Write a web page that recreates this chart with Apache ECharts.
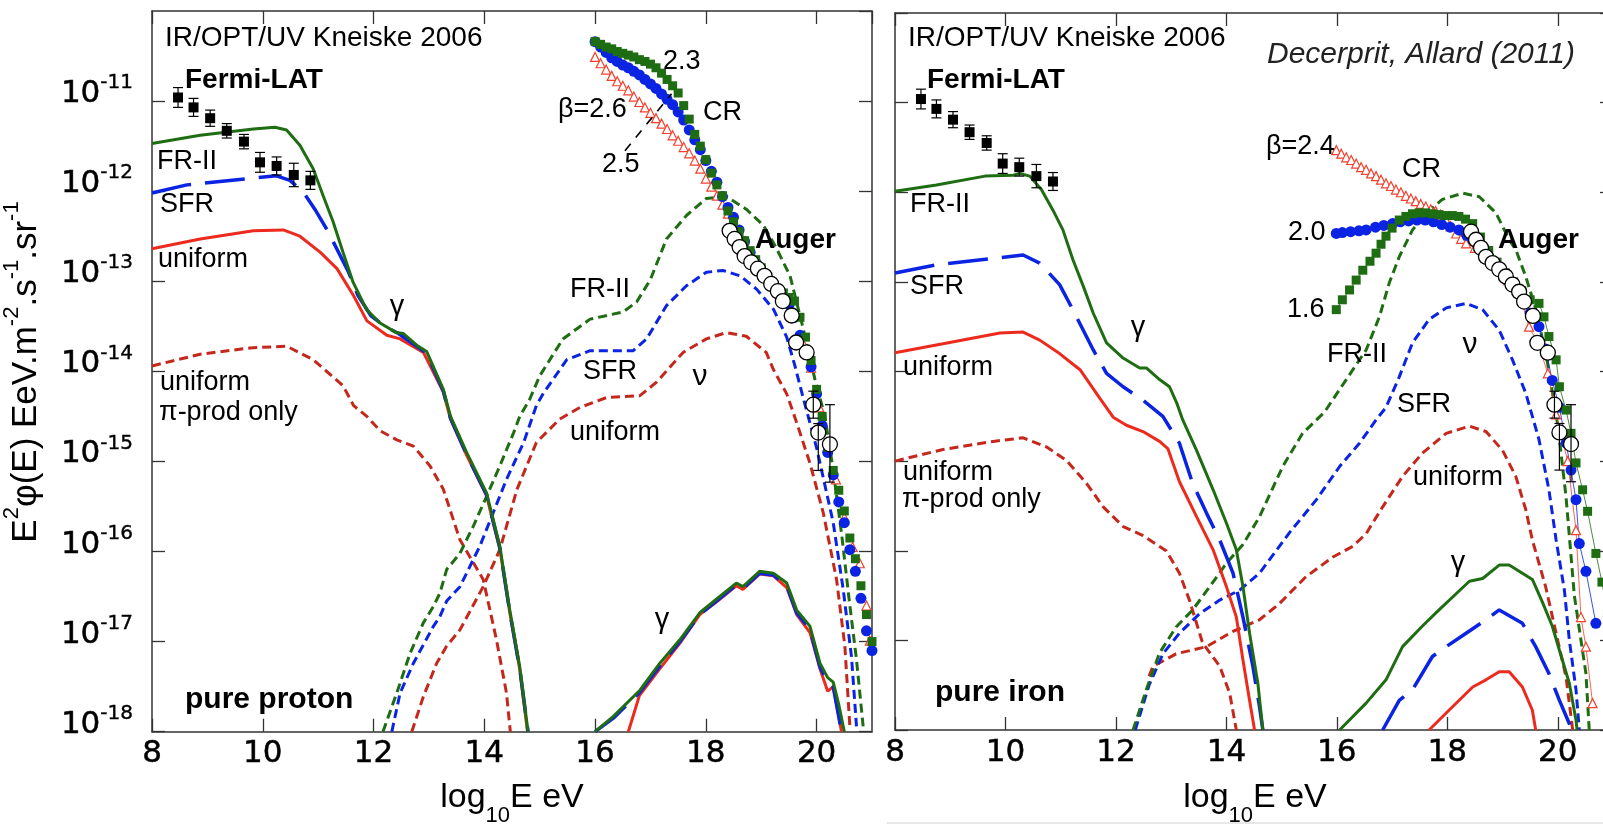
<!DOCTYPE html>
<html><head><meta charset="utf-8">
<script src="https://cdn.jsdelivr.net/npm/echarts@6/dist/echarts.min.js"></script>
<style>html,body{margin:0;padding:0;background:#fff}#c{width:1603px;height:824px}</style>
</head><body><div id="c"></div>
<script>
// ---------- DATA (x = log10 E [eV], y = log10 E^2 phi) ----------
const xTicks = [8, 10, 12, 14, 16, 18, 20];
const yTicks = [-18, -17, -16, -15, -14, -13, -12, -11];

// Fermi-LAT
const fermiX = [8.47, 8.75, 9.05, 9.35, 9.66, 9.95, 10.25, 10.56, 10.86];
const fermiY = [-10.96, -11.07, -11.19, -11.33, -11.45, -11.68, -11.72, -11.82, -11.88];
const fermiErr = [0.11, 0.10, 0.09, 0.08, 0.08, 0.11, 0.10, 0.13, 0.10];

// Auger
const augerX = [18.43, 18.52, 18.61, 18.70, 18.82, 18.94, 19.06, 19.18, 19.30, 19.39, 19.55, 19.63, 19.82, 19.94, 20.03, 20.24];
const augerY = [-12.44, -12.53, -12.62, -12.72, -12.79, -12.86, -12.94, -13.03, -13.11, -13.22, -13.38, -13.68, -13.79, -14.37, -14.68, -14.81];
const augerErrLo = [0, 0, 0, 0, 0, 0, 0, 0, 0, 0, 0, 0, 0, 0.15, 0.42, 0.42];
const augerErrHi = [0, 0, 0, 0, 0, 0, 0, 0, 0, 0, 0, 0, 0, 0.15, 0.10, 0.44];

// ---- pure proton panel ----
const pGammaFRII = [[8.0,-11.47],[8.87,-11.38],[9.83,-11.31],[10.22,-11.29],[10.43,-11.32],[10.67,-11.49],[10.91,-11.75],[11.09,-12.05],[11.27,-12.34],[11.45,-12.68],[11.63,-13.01],[11.87,-13.31],[12.11,-13.46],[12.41,-13.57],[12.54,-13.58],[12.8,-13.72],[12.96,-13.78],[13.26,-14.2],[13.39,-14.5],[13.68,-14.9],[14.04,-15.35],[14.28,-15.94],[14.46,-16.65],[14.64,-17.28],[14.79,-18]];
const pGammaSFR = [[8.0,-12.02],[8.63,-11.93],[9.89,-11.85],[10.25,-11.83],[10.49,-11.88],[10.73,-12.01],[10.94,-12.2],[11.18,-12.45],[11.55,-12.9],[11.72,-13.16],[11.95,-13.38],[12.2,-13.5],[12.45,-13.58],[12.8,-13.73],[12.96,-13.8],[13.26,-14.22],[13.39,-14.52],[13.68,-14.92],[14.04,-15.37],[14.28,-15.96],[14.46,-16.67],[14.64,-17.3],[14.79,-18]];
const pGammaUniform = [[8.0,-12.64],[8.87,-12.53],[9.83,-12.44],[10.37,-12.43],[10.67,-12.5],[11.04,-12.68],[11.34,-12.86],[11.64,-13.16],[11.88,-13.44],[12.24,-13.6],[12.48,-13.64],[12.9,-13.79],[13.26,-14.23],[13.39,-14.53],[13.68,-14.93],[14.04,-15.38],[14.28,-15.97],[14.46,-16.68],[14.64,-17.31],[14.78,-18]];
const pNuPiProd = [[8.0,-13.94],[8.87,-13.81],[9.77,-13.74],[10.43,-13.72],[10.91,-13.87],[11.45,-14.16],[11.64,-14.38],[11.88,-14.5],[12.12,-14.66],[12.42,-14.76],[12.72,-14.83],[13.02,-15.05],[13.26,-15.31],[13.56,-15.87],[13.98,-16.31],[14.22,-16.98],[14.4,-17.57],[14.47,-18]];
const pNuFRII = [[12.17,-18],[12.42,-17.57],[12.66,-17.13],[12.9,-16.79],[13.08,-16.61],[13.2,-16.46],[13.32,-16.2],[13.56,-16.02],[13.8,-15.72],[14.04,-15.39],[14.28,-15.05],[14.53,-14.68],[14.64,-14.5],[14.82,-14.31],[15.0,-14.05],[15.42,-13.64],[15.91,-13.42],[16.51,-13.34],[16.75,-13.23],[17.0,-12.98],[17.29,-12.53],[17.65,-12.27],[18.01,-12.08],[18.37,-12.06],[18.73,-12.2],[19.04,-12.38],[19.28,-12.64],[19.52,-12.94],[19.76,-13.53],[19.97,-14.09],[20.15,-14.5],[20.3,-15.1],[20.45,-15.8],[20.6,-16.6],[20.72,-17.2],[20.84,-17.94]];
const pNuSFR = [[12.33,-18],[12.48,-17.57],[12.72,-17.24],[13.08,-16.83],[13.2,-16.72],[13.32,-16.55],[13.56,-16.39],[13.92,-15.94],[14.16,-15.57],[14.4,-15.2],[14.71,-14.79],[14.94,-14.38],[15.07,-14.24],[15.49,-13.87],[15.91,-13.77],[16.69,-13.77],[16.93,-13.64],[17.29,-13.27],[17.65,-13.05],[18.01,-12.9],[18.31,-12.88],[18.62,-12.94],[18.92,-13.09],[19.22,-13.31],[19.46,-13.62],[19.6,-13.92],[19.76,-14.3],[20.0,-14.85],[20.3,-15.68],[20.48,-16.42],[20.63,-17.17],[20.72,-17.94]];
const pNuUniform = [[12.69,-18],[12.9,-17.61],[13.14,-17.24],[13.32,-17.05],[13.56,-16.87],[13.98,-16.39],[14.28,-15.98],[14.59,-15.31],[14.94,-14.79],[15.36,-14.53],[15.73,-14.4],[16.21,-14.29],[16.81,-14.27],[17.11,-14.12],[17.59,-13.79],[18.01,-13.64],[18.37,-13.57],[18.73,-13.61],[19.09,-13.79],[19.22,-13.98],[19.46,-14.25],[19.64,-14.57],[19.88,-15.02],[20.12,-15.57],[20.36,-16.31],[20.51,-17.05],[20.6,-17.94]];
const pCascFRII = [[16.0,-18],[16.33,-17.83],[16.81,-17.54],[17.17,-17.24],[17.53,-16.98],[17.89,-16.68],[18.19,-16.53],[18.55,-16.35],[18.67,-16.39],[18.97,-16.22],[19.22,-16.24],[19.46,-16.35],[19.64,-16.65],[19.88,-16.83],[20.06,-17.24],[20.2,-17.4],[20.3,-17.45],[20.4,-17.7],[20.5,-18]];
const pCascSFR = [[16.0,-18],[16.33,-17.85],[16.81,-17.56],[17.17,-17.27],[17.53,-17.0],[17.89,-16.7],[18.19,-16.55],[18.55,-16.37],[18.67,-16.41],[18.97,-16.24],[19.22,-16.26],[19.46,-16.38],[19.64,-16.68],[19.88,-16.86],[20.06,-17.28],[20.2,-17.45],[20.3,-17.5],[20.45,-18]];
const pCascUniform = [[16.6,-18],[16.8,-17.6],[17.17,-17.3],[17.53,-17.02],[17.89,-16.7],[18.19,-16.56],[18.55,-16.38],[18.67,-16.42],[18.97,-16.25],[19.22,-16.27],[19.46,-16.4],[19.64,-16.7],[19.88,-16.9],[20.06,-17.3],[20.2,-17.55],[20.3,-17.5],[20.45,-18]];
const pCR23 = [[16.0,-10.34],[16.1,-10.37],[16.2,-10.4],[16.3,-10.42],[16.4,-10.45],[16.5,-10.47],[16.6,-10.49],[16.7,-10.51],[16.8,-10.54],[16.9,-10.56],[17.0,-10.59],[17.1,-10.63],[17.2,-10.69],[17.3,-10.76],[17.4,-10.83],[17.5,-10.91],[17.6,-11.05],[17.7,-11.2],[17.8,-11.37],[17.9,-11.5],[18.0,-11.65],[18.1,-11.8],[18.2,-11.93],[18.3,-12.05],[18.4,-12.22],[18.5,-12.34],[18.6,-12.45],[18.7,-12.55],[18.8,-12.66],[18.9,-12.76],[19.0,-12.85],[19.1,-12.94],[19.2,-13.01],[19.3,-13.08],[19.4,-13.13],[19.5,-13.18],[19.6,-13.22],[19.7,-13.4],[19.8,-13.62],[19.9,-13.88],[20.0,-14.2],[20.1,-14.5],[20.2,-14.84],[20.3,-15.1],[20.4,-15.32],[20.5,-15.55],[20.6,-15.85],[20.7,-16.08],[20.8,-16.38],[20.9,-16.7],[21.0,-17.0]];
const pCR25 = [[16.0,-10.34],[16.1,-10.4],[16.2,-10.46],[16.3,-10.52],[16.4,-10.56],[16.5,-10.6],[16.6,-10.63],[16.7,-10.67],[16.8,-10.71],[16.9,-10.76],[17.0,-10.81],[17.1,-10.86],[17.2,-10.92],[17.3,-10.98],[17.4,-11.04],[17.5,-11.12],[17.6,-11.21],[17.7,-11.32],[17.8,-11.43],[17.9,-11.54],[18.0,-11.66],[18.1,-11.78],[18.2,-11.9],[18.3,-12.06],[18.4,-12.18],[18.5,-12.29],[18.6,-12.43],[18.7,-12.56],[18.8,-12.68],[18.9,-12.79],[19.0,-12.89],[19.1,-12.97],[19.2,-13.05],[19.3,-13.12],[19.4,-13.18],[19.5,-13.26],[19.6,-13.4],[19.7,-13.6],[19.8,-13.78],[19.9,-13.95],[20.0,-14.25],[20.1,-14.6],[20.2,-14.9],[20.3,-15.15],[20.4,-15.45],[20.5,-15.68],[20.6,-15.98],[20.7,-16.22],[20.8,-16.52],[20.9,-16.88],[21.0,-17.1]];
const pCR26 = [[16.0,-10.51],[16.1,-10.58],[16.2,-10.65],[16.3,-10.72],[16.4,-10.78],[16.5,-10.83],[16.6,-10.88],[16.7,-10.95],[16.8,-11.01],[16.9,-11.07],[17.0,-11.13],[17.1,-11.19],[17.2,-11.25],[17.3,-11.31],[17.4,-11.38],[17.5,-11.44],[17.6,-11.51],[17.7,-11.58],[17.8,-11.66],[17.9,-11.75],[18.0,-11.86],[18.1,-11.95],[18.2,-12.05],[18.3,-12.15],[18.4,-12.25],[18.55,-12.4],[18.7,-12.58],[18.85,-12.74],[19.0,-12.88],[19.15,-12.99],[19.3,-13.1],[19.45,-13.2],[19.6,-13.38],[19.75,-13.68],[19.9,-13.96],[20.05,-14.4],[20.2,-14.85],[20.35,-15.2],[20.5,-15.62],[20.65,-15.95],[20.78,-16.13],[20.9,-16.6],[20.96,-16.99]];
const pPointer = [[16.54,-11.55],[17.38,-10.92]];

// ---- pure iron panel ----
const fGammaFRII = [[8.0,-11.99],[8.75,-11.92],[9.63,-11.82],[10.14,-11.81],[10.26,-11.79],[10.44,-11.82],[10.65,-11.97],[10.86,-12.2],[11.04,-12.42],[11.22,-12.75],[11.41,-13.05],[11.59,-13.35],[11.83,-13.68],[12.13,-13.85],[12.43,-13.96],[12.55,-13.96],[12.79,-14.09],[12.97,-14.17],[13.1,-14.35],[13.21,-14.54],[13.46,-14.88],[13.76,-15.32],[14.0,-15.69],[14.18,-15.99],[14.3,-16.4],[14.42,-16.92],[14.57,-17.48],[14.66,-18]];
const fGammaSFR = [[8.0,-12.9],[8.75,-12.81],[9.9,-12.73],[10.32,-12.7],[10.62,-12.79],[10.98,-13.03],[11.22,-13.31],[11.59,-13.76],[11.83,-14.02],[12.13,-14.17],[12.49,-14.32],[12.85,-14.5],[13.15,-14.8],[13.39,-15.25],[13.64,-15.58],[13.88,-15.88],[14.12,-16.25],[14.3,-16.74],[14.48,-17.29],[14.6,-17.74],[14.66,-18]];
const fGammaUniform = [[8.0,-13.79],[8.87,-13.69],[9.9,-13.57],[10.32,-13.56],[10.62,-13.65],[10.98,-13.8],[11.35,-13.98],[11.71,-14.3],[11.95,-14.51],[12.19,-14.6],[12.49,-14.67],[12.79,-14.78],[12.94,-14.86],[13.15,-15.23],[13.46,-15.62],[13.76,-15.99],[14.0,-16.4],[14.18,-16.74],[14.3,-17.22],[14.42,-17.67],[14.51,-18]];
const fNuPiProd = [[8.0,-15.0],[8.87,-14.87],[9.78,-14.78],[10.32,-14.74],[10.74,-14.84],[11.1,-14.99],[11.47,-15.25],[11.77,-15.51],[12.13,-15.73],[12.49,-15.83],[12.91,-16.0],[13.15,-16.25],[13.33,-16.55],[13.57,-17.03],[13.88,-17.29],[14.06,-17.59],[14.18,-18]];
const fNuFRII = [[12.31,-18],[12.55,-17.55],[12.79,-17.14],[13.09,-16.85],[13.39,-16.66],[13.7,-16.4],[14.0,-16.14],[14.3,-15.93],[14.6,-15.62],[15.02,-15.06],[15.38,-14.69],[15.78,-14.45],[16.17,-14.09],[16.53,-13.76],[16.77,-13.39],[16.95,-13.01],[17.13,-12.72],[17.37,-12.42],[17.62,-12.23],[17.91,-12.08],[18.28,-12.01],[18.58,-12.05],[18.88,-12.23],[19.12,-12.53],[19.24,-12.64],[19.42,-12.94],[19.6,-13.3],[19.8,-13.85],[20.0,-14.6],[20.15,-15.4],[20.3,-16.5],[20.51,-17.37],[20.57,-18]];
const fNuSFR = [[12.35,-18],[12.6,-17.5],[12.85,-17.15],[13.15,-16.92],[13.52,-16.7],[13.88,-16.55],[14.24,-16.44],[14.6,-16.25],[15.14,-15.8],[15.63,-15.43],[16.05,-15.06],[16.41,-14.8],[16.71,-14.54],[16.89,-14.4],[17.13,-14.06],[17.37,-13.68],[17.67,-13.42],[17.98,-13.29],[18.34,-13.24],[18.64,-13.31],[18.94,-13.54],[19.18,-13.87],[19.42,-14.24],[19.66,-14.76],[19.84,-15.32],[19.97,-15.88],[20.12,-16.44],[20.21,-17.0],[20.33,-17.55],[20.39,-18]];
const fNuUniform = [[12.6,-17.4],[12.67,-17.29],[13.09,-17.15],[13.64,-17.07],[14.12,-16.9],[14.6,-16.77],[14.96,-16.59],[15.44,-16.29],[15.93,-16.07],[16.29,-15.95],[16.53,-15.81],[16.83,-15.51],[17.19,-15.17],[17.55,-14.91],[17.98,-14.69],[18.4,-14.61],[18.7,-14.67],[19.0,-14.88],[19.24,-15.17],[19.42,-15.54],[19.54,-15.88],[19.78,-16.4],[19.97,-16.92],[20.15,-17.41],[20.27,-18]];
const fCascFRII = [[16.05,-18],[16.53,-17.7],[16.89,-17.44],[17.19,-17.07],[17.55,-16.84],[17.85,-16.66],[18.16,-16.48],[18.4,-16.34],[18.64,-16.31],[18.94,-16.16],[19.12,-16.16],[19.54,-16.32],[19.72,-16.57],[19.9,-16.84],[20.03,-17.11],[20.21,-17.48],[20.33,-17.89],[20.35,-18]];
const fCascSFR = [[16.83,-18],[17.13,-17.67],[17.37,-17.55],[17.73,-17.18],[17.98,-17.07],[18.34,-16.92],[18.7,-16.77],[18.94,-16.66],[19.36,-16.81],[19.6,-17.07],[19.84,-17.37],[20.03,-17.67],[20.21,-17.93],[20.25,-18]];
const fCascUniform = [[17.67,-18],[17.98,-17.81],[18.46,-17.52],[18.7,-17.44],[18.94,-17.35],[19.12,-17.35],[19.36,-17.52],[19.54,-17.78],[19.6,-18]];
const fCR16 = [[15.99,-13.31],[16.1,-13.2],[16.23,-13.09],[16.35,-12.98],[16.47,-12.87],[16.6,-12.77],[16.71,-12.68],[16.8,-12.58],[16.89,-12.49],[17.0,-12.4],[17.13,-12.31],[17.25,-12.27],[17.37,-12.24],[17.49,-12.23],[17.61,-12.23],[17.73,-12.24],[17.85,-12.25],[17.97,-12.26],[18.09,-12.26],[18.21,-12.27],[18.33,-12.3],[18.46,-12.35],[18.6,-12.5],[18.75,-12.65],[18.9,-12.78],[19.05,-12.9],[19.2,-13.0],[19.35,-13.1],[19.5,-13.2],[19.66,-13.24],[19.75,-13.39],[19.84,-13.61],[19.97,-13.87],[20.03,-14.17],[20.15,-14.43],[20.24,-14.69],[20.33,-15.02],[20.45,-15.32],[20.54,-15.56],[20.69,-16.03],[20.8,-16.35],[20.9,-16.7]];
const fCR20 = [[15.99,-12.46],[16.1,-12.45],[16.25,-12.44],[16.4,-12.43],[16.53,-12.42],[16.7,-12.39],[16.85,-12.37],[17.01,-12.35],[17.15,-12.33],[17.3,-12.32],[17.45,-12.31],[17.6,-12.31],[17.75,-12.33],[17.9,-12.36],[18.05,-12.39],[18.21,-12.42],[18.35,-12.48],[18.46,-12.53],[18.6,-12.62],[18.75,-12.72],[18.9,-12.84],[19.05,-12.95],[19.2,-13.06],[19.35,-13.2],[19.5,-13.35],[19.66,-13.5],[19.78,-13.75],[19.9,-14.1],[20.03,-14.4],[20.15,-14.8],[20.24,-15.1],[20.33,-15.43],[20.39,-15.92],[20.51,-16.23],[20.69,-16.81]];
const fCR24 = [[15.99,-11.53],[16.08,-11.57],[16.17,-11.61],[16.26,-11.64],[16.35,-11.68],[16.44,-11.72],[16.53,-11.75],[16.62,-11.79],[16.71,-11.82],[16.8,-11.86],[16.89,-11.9],[16.98,-11.93],[17.07,-11.97],[17.16,-12.0],[17.25,-12.04],[17.34,-12.07],[17.43,-12.1],[17.52,-12.13],[17.61,-12.16],[17.7,-12.19],[17.79,-12.21],[17.88,-12.25],[17.97,-12.3],[18.06,-12.38],[18.16,-12.46],[18.25,-12.52],[18.34,-12.57],[18.5,-12.62],[18.7,-12.72],[18.9,-12.85],[19.1,-12.98],[19.3,-13.12],[19.48,-13.5],[19.65,-13.7],[19.82,-14.02],[19.97,-14.48],[20.18,-15.0],[20.33,-15.77],[20.42,-16.74],[20.51,-17.07],[20.63,-17.7]];

// ---------- STYLE ----------
const FONT = '"Liberation Sans", Arial, Helvetica, sans-serif';
const TICKFONT = '"DejaVu Sans", "Liberation Sans", sans-serif';
const GREEN = '#1f6d12', BLUE = '#0b24e4', RED = '#ec2a1d', DRED = '#c4281c', TRI = '#f2402e';
const SHORT = [9, 5], LONG = [40, 14];

function xAx(grid, pos, labels) {
  return { type: 'value', gridIndex: grid, position: pos, min: 8, max: 21, interval: 2,
    axisLine: { show: true, onZero: false, lineStyle: { color: '#333', width: 1.5 } },
    axisTick: { show: true, inside: true, length: 13, lineStyle: { color: '#333', width: 1.3 } },
    axisLabel: { show: labels, showMaxLabel: false, fontSize: 31, color: '#000', fontFamily: TICKFONT, margin: 7,
      textBorderColor: '#000', textBorderWidth: 0.5,
      formatter: v => xTicks.includes(v) ? String(v) : '' },
    splitLine: { show: false } };
}
function yAx(grid, pos, labels) {
  return { type: 'value', gridIndex: grid, position: pos, min: -18, max: -10, interval: 1,
    axisLine: { show: true, onZero: false, lineStyle: { color: '#333', width: 1.5 } },
    axisTick: { show: true, inside: true, length: 13, lineStyle: { color: '#333', width: 1.3 } },
    axisLabel: { show: labels, showMaxLabel: false, margin: 19,
      formatter: v => yTicks.includes(v) ? '{b|10}{s|' + v + '}' : '',
      rich: { b: { fontSize: 31, fontFamily: TICKFONT, color: '#000', textBorderColor: '#000', textBorderWidth: 0.5, padding: [0, 0, 14, 0] },
              s: { fontSize: 20, fontFamily: TICKFONT, color: '#000', textBorderColor: '#000', textBorderWidth: 0.4, padding: [0, 0, 36, 0] } } },
    splitLine: { show: false } };
}
function lineS(data, ax, color, width, dash, z) {
  return { type: 'line', xAxisIndex: ax, yAxisIndex: ax, data: data, symbol: 'none', showSymbol: false,
    lineStyle: { color: color, width: width, type: dash || 'solid', cap: 'butt' }, z: z || 2, silent: true, animation: false };
}
function markS(data, ax, symbol, size, fill, stroke, bw, z, connect) {
  return { type: 'line', xAxisIndex: ax, yAxisIndex: ax, data: data, symbol: symbol, symbolSize: size,
    showSymbol: true, showAllSymbol: true,
    lineStyle: { color: stroke, width: connect ? 1 : 0, opacity: connect ? 0.8 : 0 },
    itemStyle: { color: fill, borderColor: stroke, borderWidth: bw }, z: z, silent: true, animation: false };
}
function errRender(params, api) {
  const x = api.value(0), lo = api.value(2), hi = api.value(3);
  if (lo === hi) return null;
  const a = api.coord([x, hi]), b = api.coord([x, lo]), w = 5;
  const st = { stroke: '#000', lineWidth: 1.2 };
  return { type: 'group', children: [
    { type: 'line', shape: { x1: a[0], y1: a[1], x2: b[0], y2: b[1] }, style: st },
    { type: 'line', shape: { x1: a[0] - w, y1: a[1], x2: a[0] + w, y2: a[1] }, style: st },
    { type: 'line', shape: { x1: b[0] - w, y1: b[1], x2: b[0] + w, y2: b[1] }, style: st } ] };
}
function errS(data, ax) {
  return { type: 'custom', xAxisIndex: ax, yAxisIndex: ax, data: data, renderItem: errRender,
    encode: { x: 0, y: 1 }, z: 6, silent: true, animation: false };
}
const fermiPts = fermiX.map((x, i) => [x, fermiY[i]]);
const fermiErrData = fermiX.map((x, i) => [x, fermiY[i], fermiY[i] - fermiErr[i], fermiY[i] + fermiErr[i]]);
const augerPts = augerX.map((x, i) => [x, augerY[i]]);
const augerErrData = augerX.map((x, i) => [x, augerY[i], augerY[i] - augerErrLo[i], augerY[i] + augerErrHi[i]]);

function panel(ax, d, connect) {
  return [
    lineS(d.nuPi, ax, DRED, 3, SHORT),
    lineS(d.nuUni, ax, DRED, 3, SHORT),
    lineS(d.nuSFR, ax, BLUE, 3, SHORT),
    lineS(d.nuFR, ax, GREEN, 3, SHORT),
    lineS(d.gUni, ax, RED, 3),
    lineS(d.gSFR, ax, BLUE, 3.5, LONG),
    lineS(d.gFR, ax, GREEN, 3),
    lineS(d.cUni, ax, RED, 3),
    lineS(d.cSFR, ax, BLUE, 3.5, LONG),
    lineS(d.cFR, ax, GREEN, 3),
    markS(d.crA, ax, 'triangle', 9, '#fff', TRI, 1.2, 3, connect),
    markS(d.crB, ax, 'circle', 11, BLUE, BLUE, 0, 3, connect),
    markS(d.crC, ax, 'rect', 9, GREEN, GREEN, 0, 3, connect),
    markS(augerPts, ax, 'circle', 15, '#fff', '#000', 1.3, 5, false),
    errS(augerErrData, ax),
    markS(fermiPts, ax, 'rect', 10, '#000', '#000', 0, 5, false),
    errS(fermiErrData, ax)
  ];
}

const series = [].concat(
  panel(0, { nuPi: pNuPiProd, nuUni: pNuUniform, nuSFR: pNuSFR, nuFR: pNuFRII, gUni: pGammaUniform, gSFR: pGammaSFR, gFR: pGammaFRII,
             cUni: pCascUniform, cSFR: pCascSFR, cFR: pCascFRII, crA: pCR26, crB: pCR25, crC: pCR23 }, false),
  [lineS(pPointer, 0, '#000', 1.6, [9, 8], 7)],
  panel(2, { nuPi: fNuPiProd, nuUni: fNuUniform, nuSFR: fNuSFR, nuFR: fNuFRII, gUni: fGammaUniform, gSFR: fGammaSFR, gFR: fGammaFRII,
             cUni: fCascUniform, cSFR: fCascSFR, cFR: fCascFRII, crA: fCR24, crB: fCR20, crC: fCR16 }, true)
);

// ---------- TEXT ----------
function T(text, x, y, o) {
  o = o || {};
  return { type: 'text', x: x, y: y, z: 100, silent: true,
    style: { text: text, fill: o.color || '#000', align: o.align || 'left', verticalAlign: 'middle',
      font: (o.italic ? 'italic ' : '') + (o.bold ? 'bold ' : '') + (o.size || 27) + 'px ' + FONT } };
}
const labels = [
  T('IR/OPT/UV Kneiske 2006', 165, 38, { size: 28 }),
  T('Fermi-LAT', 185, 80, { size: 28, bold: true }),
  T('FR-II', 157, 162), T('SFR', 160, 205), T('uniform', 158, 260),
  T('uniform', 160, 383), T('π-prod only', 159, 413),
  T('γ', 397, 307, { align: 'center', size: 29 }),
  T('pure proton', 185, 700, { size: 30, bold: true }),
  T('2.3', 663, 62), T('CR', 703, 113), T('β=2.6', 558, 110), T('2.5', 602, 165),
  T('Auger', 755, 240, { size: 28, bold: true }),
  T('FR-II', 570, 290), T('SFR', 583, 372), T('ν', 700, 377, { align: 'center', size: 30 }),
  T('uniform', 570, 433), T('γ', 662, 620, { align: 'center', size: 29 }),

  T('IR/OPT/UV Kneiske 2006', 908, 38, { size: 28 }),
  T('Fermi-LAT', 927, 80, { size: 28, bold: true }),
  T('FR-II', 910, 205), T('SFR', 910, 287), T('uniform', 903, 368),
  T('γ', 1138, 328, { align: 'center', size: 29 }),
  T('uniform', 903, 473), T('π-prod only', 902, 500),
  T('pure iron', 935, 693, { size: 30, bold: true }),
  T('Decerprit, Allard (2011)', 1267, 55, { size: 30, italic: true, color: '#222' }),
  T('β=2.4', 1266, 147), T('CR', 1402, 170), T('2.0', 1288, 233),
  T('Auger', 1498, 240, { size: 28, bold: true }),
  T('1.6', 1287, 310), T('FR-II', 1327, 355), T('ν', 1470, 345, { align: 'center', size: 30 }),
  T('SFR', 1397, 405), T('uniform', 1413, 478), T('γ', 1458, 563, { align: 'center', size: 29 })
];
const richBase = { fontFamily: FONT, fill: '#000' };
function xTitle(cx) {
  return { type: 'text', x: cx, y: 798, z: 100, silent: true,
    style: { text: '{n|log}{u|10}{n|E eV}', align: 'center', verticalAlign: 'middle',
      rich: { n: Object.assign({ fontSize: 34 }, richBase), u: Object.assign({ fontSize: 22, padding: [36, 0, 0, 0] }, richBase) } } };
}
const yTitle = { type: 'text', x: 26, y: 372, rotation: Math.PI / 2, z: 100, silent: true,
  style: { text: '{n|E}{s|2}{n|φ(E) EeV.m}{s|-2}{n|.s}{s|-1}{n|.sr}{s|-1}', align: 'center', verticalAlign: 'middle',
    rich: { n: Object.assign({ fontSize: 35 }, richBase), s: Object.assign({ fontSize: 22, padding: [0, 0, 28, 0] }, richBase) } } };
const frameLine = { type: 'line', z: 100, silent: true, shape: { x1: 887, y1: 823, x2: 1603, y2: 823 }, style: { stroke: '#d0d0d0', lineWidth: 1 } };

const chart = echarts.init(document.getElementById('c'), null, { renderer: 'canvas' });
chart.setOption({
  animation: false,
  backgroundColor: '#fff',
  grid: [
    { left: 152, top: 11, width: 720, height: 720.7, outerBoundsMode: 'none', containLabel: false },
    { left: 895, top: 13, right: -10, height: 717, outerBoundsMode: 'none', containLabel: false }
  ],
  xAxis: [xAx(0, 'bottom', true), xAx(0, 'top', false), xAx(1, 'bottom', true), xAx(1, 'top', false)],
  yAxis: [yAx(0, 'left', true), yAx(0, 'right', false), yAx(1, 'left', false), yAx(1, 'right', false)],
  series: series,
  graphic: [].concat(labels, [xTitle(512), xTitle(1255), yTitle, frameLine])
});
</script></body></html>
